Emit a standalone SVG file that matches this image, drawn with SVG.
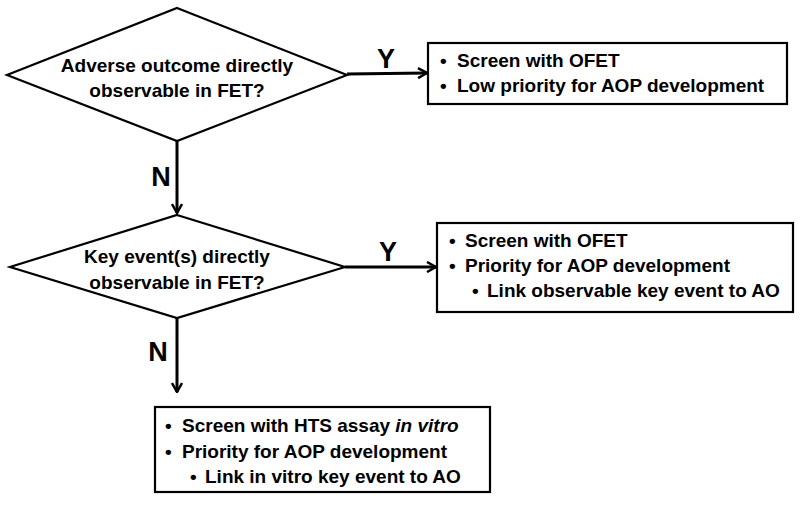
<svg xmlns="http://www.w3.org/2000/svg" width="800" height="506" viewBox="0 0 800 506">
<style>
.shape{fill:#fff;stroke:#000;stroke-width:2.2}
.t{font-family:"Liberation Sans",Arial,sans-serif;font-weight:bold;font-size:19px;fill:#000}
.c{text-anchor:middle}
.lbl{font-family:"Liberation Sans",Arial,sans-serif;font-weight:bold;font-size:27px;fill:#000;text-anchor:middle}
.ln{stroke:#000;stroke-width:3;fill:none}
</style>
<defs>
<marker id="arr" viewBox="0 0 12 12" refX="11" refY="6" markerWidth="12" markerHeight="12" markerUnits="userSpaceOnUse" orient="auto">
<path d="M2,1 L11,6 L2,11" fill="none" stroke="#000" stroke-width="2.5"/>
</marker>
</defs>
<rect width="800" height="506" fill="#fff"/>
<g id="connectors">
<line class="ln" x1="347" y1="74" x2="427" y2="73" marker-end="url(#arr)"/>
<text class="lbl" x="386" y="68">Y</text>
<line class="ln" x1="177" y1="141" x2="177" y2="213" marker-end="url(#arr)"/>
<text class="lbl" x="161" y="186">N</text>
<line class="ln" x1="345" y1="267" x2="436" y2="267" marker-end="url(#arr)"/>
<text class="lbl" x="388" y="261">Y</text>
<line class="ln" x1="177" y1="318" x2="177" y2="392" marker-end="url(#arr)"/>
<text class="lbl" x="158" y="361">N</text>
</g>
<g id="decision1">
<polygon class="shape" points="177,8 347,75 177,141 7,75"/>
<text class="t c" x="177" y="72">Adverse outcome directly</text>
<text class="t c" x="177" y="97">observable in FET?</text>
</g>
<g id="result1">
<rect class="shape" x="428" y="43" width="359" height="61"/>
<text class="t" x="440" y="67">•</text>
<text class="t" x="457" y="67">Screen with OFET</text>
<text class="t" x="440" y="92">•</text>
<text class="t" x="457" y="92">Low priority for AOP development</text>
</g>
<g id="decision2">
<polygon class="shape" points="177,215 345,267 177,318 10,267"/>
<text class="t c" x="177" y="263">Key event(s) directly</text>
<text class="t c" x="177" y="289">observable in FET?</text>
</g>
<g id="result2">
<rect class="shape" x="437" y="223" width="356" height="89"/>
<text class="t" x="449" y="247">•</text>
<text class="t" x="465" y="247">Screen with OFET</text>
<text class="t" x="449" y="272">•</text>
<text class="t" x="465" y="272">Priority for AOP development</text>
<text class="t" x="472" y="297">•</text>
<text class="t" x="487" y="297">Link observable key event to AO</text>
</g>
<g id="result3">
<rect class="shape" x="155" y="407" width="335" height="85"/>
<text class="t" x="165" y="432">•</text>
<text class="t" x="182" y="432">Screen with HTS assay <tspan font-style="italic">in vitro</tspan></text>
<text class="t" x="165" y="458">•</text>
<text class="t" x="182" y="458">Priority for AOP development</text>
<text class="t" x="190" y="483">•</text>
<text class="t" x="205" y="483">Link in vitro key event to AO</text>
</g>
</svg>
